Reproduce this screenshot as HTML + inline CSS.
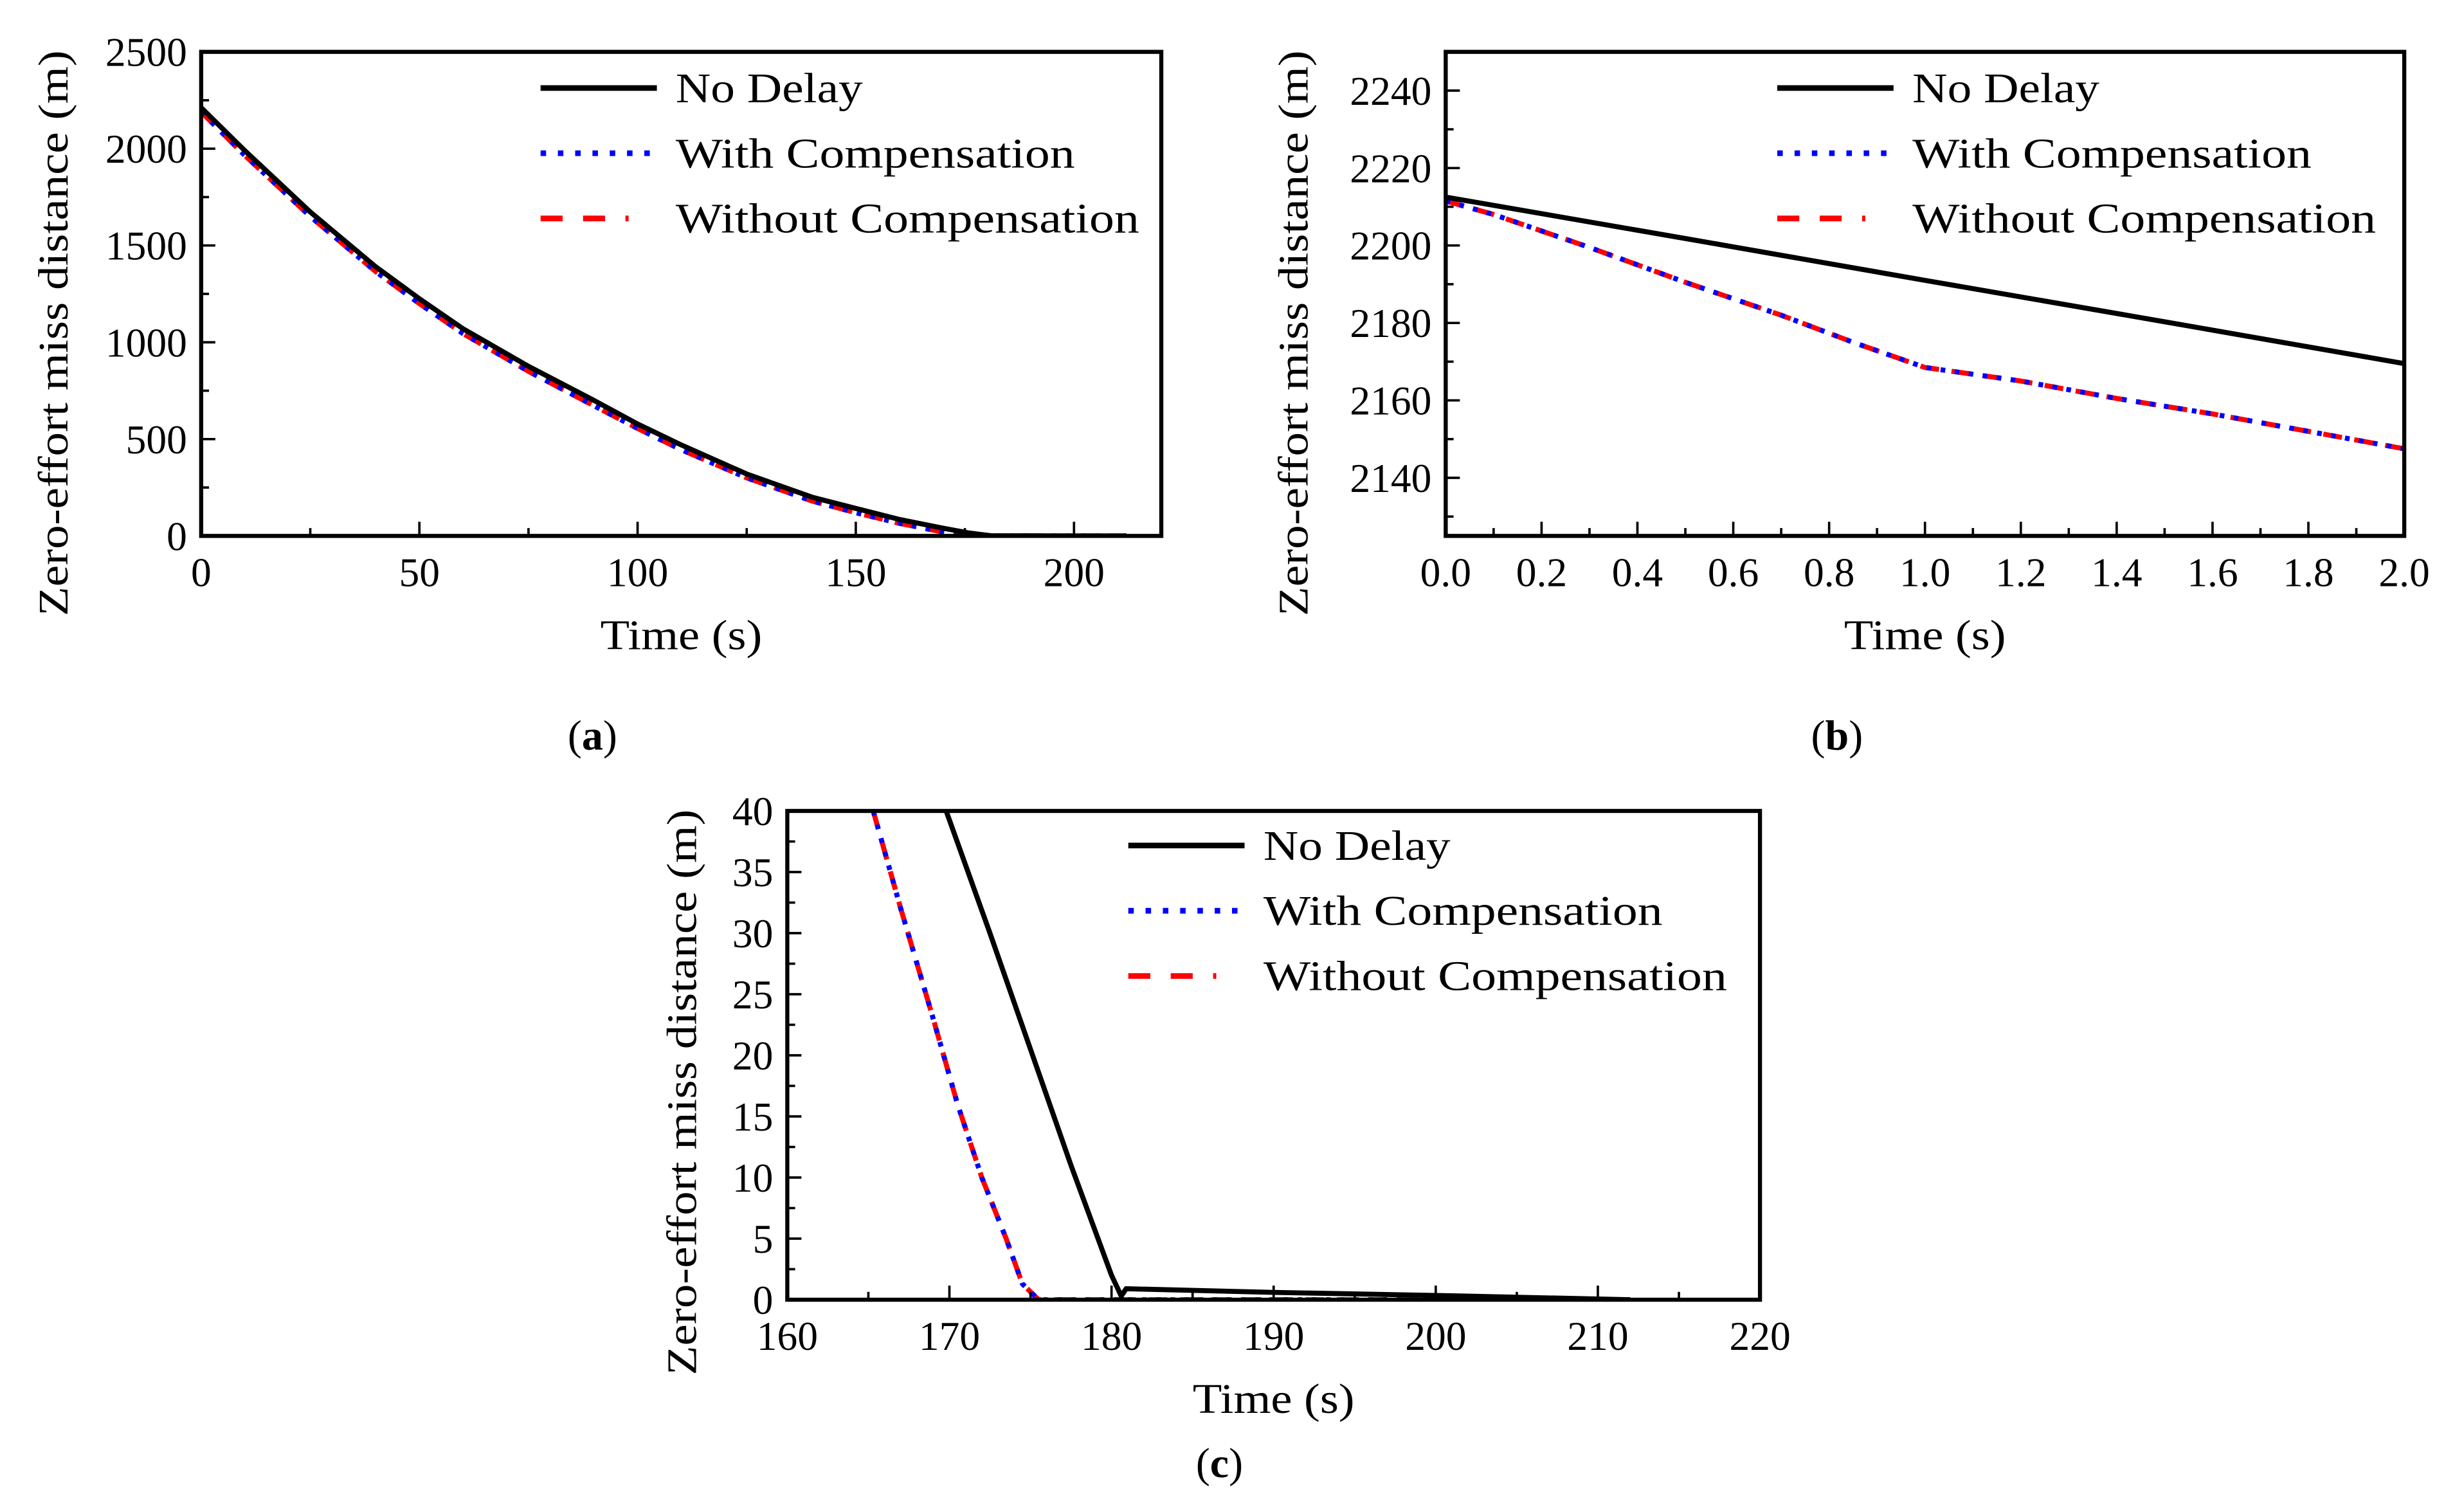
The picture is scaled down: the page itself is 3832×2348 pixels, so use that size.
<!DOCTYPE html>
<html><head><meta charset="utf-8"><style>
html,body{margin:0;padding:0;background:#fff;}
svg{display:block;}
text{font-family:"Liberation Serif",serif;fill:#000;}
</style></head><body>
<svg id="fig" width="3832" height="2348" viewBox="0 0 1568 960.8" xmlns="http://www.w3.org/2000/svg"></svg>
<script>
// Panel (a) data
const aNoDelayT = [0,10,25,40,50,60,75,90,100,110,125,140,150,160,170,176,181,190,200,212];
const aNoDelayY = [2212,1990,1673,1390,1225,1070,876,700,578,470,320,200,142,85,40,15,1,0.5,0.3,0];
const aCompT = [0,10,25,40,50,60,75,90,100,110,125,140,150,160,170,175,180,190,200,212];
const aCompY = [2190,1965,1650,1365,1200,1045,850,672,555,445,300,180,120,65,20,2,0,0,0,0];
// Panel (b) data
const bNoDelayT = [0,0.5,1.0,1.5,2.0];
const bNoDelayY = [2212.5,2201.8,2191,2180.3,2169.5];
const bCompT = [0,0.1,0.3,0.5,0.7,0.85,1.0,1.2,1.4,1.6,1.8,2.0];
const bCompY = [2211.5,2208,2199.5,2190.5,2182,2175,2168.5,2165,2160.5,2156.5,2152,2147.5];
// Panel (c) data
const cNoDelayT = [169.8,172.5,175,177.5,180,180.6,180.9,190,200,212];
const cNoDelayY = [40,30,20.5,11,2,0.3,0.9,0.6,0.35,0];
const cCompT = [165.3,167,169,170.5,172,173.5,174.5,175.5,180,212];
const cCompY = [40,32,23,16,10,5,1.3,0,0,0];
// Tick labels
const aXTicks = [0,50,100,150,200];
const aYTicks = [0,500,1000,1500,2000,2500];
const bXTicks = [0,0.2,0.4,0.6,0.8,1.0,1.2,1.4,1.6,1.8,2.0];
const bYTicks = [2140,2160,2180,2200,2220,2240];
const cXTicks = [160,170,180,190,200,210,220];
const cYTicks = [0,5,10,15,20,25,30,35,40];
const legendLabels = ["No Delay","With Compensation","Without Compensation"];
const legendWidths = [119,254,295];

const NS="http://www.w3.org/2000/svg";
const svg=document.getElementById('fig');
function mk(tag,attrs,parent){const e=document.createElementNS(NS,tag);for(const k in attrs)e.setAttribute(k,attrs[k]);(parent||svg).appendChild(e);return e;}

function panel(cfg){
  const g=mk('g',{});
  
  
  const {x0,x1,y0,y1,xmin,xmax,ymin,ymax}=cfg;
  const sx=v=>x0+(v-xmin)/(xmax-xmin)*(x1-x0);
  const sy=v=>y1-(v-ymin)/(ymax-ymin)*(y1-y0);
  const clip=mk('clipPath',{id:cfg.name+'-clip'},g);
  mk('rect',{x:x0,y:y0,width:x1-x0,height:y1-y0},clip);
  const series=[
    {t:cfg.compT,y:cfg.compY,stroke:'#ff0000',dash:'12 8',w:3.2,n:'without-compensation-line'},
    {t:cfg.compT,y:cfg.compY,stroke:'#0000ff',dash:'3 6',w:3.2,n:'with-compensation-line'},
    {t:cfg.ndT,y:cfg.ndY,stroke:'#000',dash:'',w:3.2,n:'no-delay-line'}];
  series.forEach(s=>{
    const d=s.t.map((t,i)=>(i?'L':'M')+sx(t).toFixed(2)+','+sy(s.y[i]).toFixed(2)).join('');
    const p=mk('path',{d:d,fill:'none',stroke:s.stroke,'stroke-width':s.w,'stroke-dasharray':s.dash,'stroke-linejoin':'round','clip-path':'url(#'+cfg.name+'-clip)'},g);
    
    
  });
  const tk=mk('g',{stroke:'#000','stroke-width':1.5},g);
  
  
  for(let v=xmin;v<=xmax+1e-9;v+=cfg.xMinor){
    const major=cfg.xTicks.some(t=>Math.abs(t-v)<1e-6);
    mk('line',{x1:sx(v),x2:sx(v),y1:y1,y2:y1-(major?9:5)},tk);
  }
  for(let v=cfg.yMinorStart;v<=ymax+1e-9;v+=cfg.yMinor){
    const major=cfg.yTicks.some(t=>Math.abs(t-v)<1e-6);
    mk('line',{x1:x0,x2:x0+(major?9:5),y1:sy(v),y2:sy(v)},tk);
  }
  cfg.xTicks.forEach(v=>{const t=mk('text',{x:sx(v),y:y1+32,'font-size':26,'text-anchor':'middle'},g);t.textContent=cfg.xFmt(v);});
  cfg.yTicks.forEach(v=>{const t=mk('text',{x:x0-9,y:sy(v)+9,'font-size':26,'text-anchor':'end'},g);t.textContent=String(v);});
  const fr=mk('rect',{x:x0,y:y0,width:x1-x0,height:y1-y0,fill:'none',stroke:'#000','stroke-width':2.6},g);
  
  
  const lg=mk('g',{},g);
  
  
  const st=[{s:'#000',d:'',w:3.6},{s:'#0000ff',d:'3.5 7.5',w:3.6},{s:'#ff0000',d:'14 13',w:3.6}];
  legendLabels.forEach((lab,i)=>{
    const ly=cfg.legY+i*41.5;
    mk('line',{x1:cfg.legX,x2:cfg.legX+(i==0?74:(i==1?70:56)),y1:ly,y2:ly,stroke:st[i].s,'stroke-width':st[i].w,'stroke-dasharray':st[i].d},lg);
    const t=mk('text',{x:cfg.legX+86,y:ly+9,'font-size':27,textLength:legendWidths[i],lengthAdjust:'spacingAndGlyphs'},lg);
    t.textContent=lab;
    
    
  });
  const xt=mk('text',{x:(x0+x1)/2,y:y1+72,'font-size':27,'text-anchor':'middle',textLength:103,lengthAdjust:'spacingAndGlyphs'},g);
  xt.textContent='Time (s)';
  
  
  const yc=cfg.yTitleX, ycy=cfg.yTitleC;
  const yt=mk('text',{x:yc,y:ycy,'font-size':27,'text-anchor':'middle',textLength:360,lengthAdjust:'spacingAndGlyphs',transform:'rotate(-90 '+yc+' '+ycy+')'},g);
  yt.textContent='Zero-effort miss distance (m)';
  
  
  const cap=mk('text',{x:cfg.capX,y:cfg.capY,'font-size':27,'text-anchor':'middle'},g);
  cap.innerHTML='(<tspan font-weight="bold">'+cfg.cap+'</tspan>)';
  
  
}

panel({name:'panel-a',x0:128,x1:739,y0:33,y1:341,xmin:0,xmax:220,ymin:0,ymax:2500,
  ndT:aNoDelayT,ndY:aNoDelayY,compT:aCompT,compY:aCompY,xTicks:aXTicks,yTicks:aYTicks,
  xMinor:25,yMinor:250,yMinorStart:0,xFmt:v=>String(v),legX:344,legY:56,yTitleX:43,yTitleC:212,capX:377,capY:477,cap:'a'});
panel({name:'panel-b',x0:920,x1:1530,y0:33,y1:341,xmin:0,xmax:2,ymin:2125,ymax:2250,
  ndT:bNoDelayT,ndY:bNoDelayY,compT:bCompT,compY:bCompY,xTicks:bXTicks,yTicks:bYTicks,
  xMinor:0.1,yMinor:10,yMinorStart:2130,xFmt:v=>v.toFixed(1),legX:1131,legY:56,yTitleX:832,yTitleC:212,capX:1169,capY:477,cap:'b'});
panel({name:'panel-c',x0:501,x1:1120,y0:516,y1:827,xmin:160,xmax:220,ymin:0,ymax:40,
  ndT:cNoDelayT,ndY:cNoDelayY,compT:cCompT,compY:cCompY,xTicks:cXTicks,yTicks:cYTicks,
  xMinor:5,yMinor:2.5,yMinorStart:0,xFmt:v=>String(v),legX:718,legY:538,yTitleX:443,yTitleC:695,capX:776,capY:940,cap:'c'});
</script>
</body></html>
